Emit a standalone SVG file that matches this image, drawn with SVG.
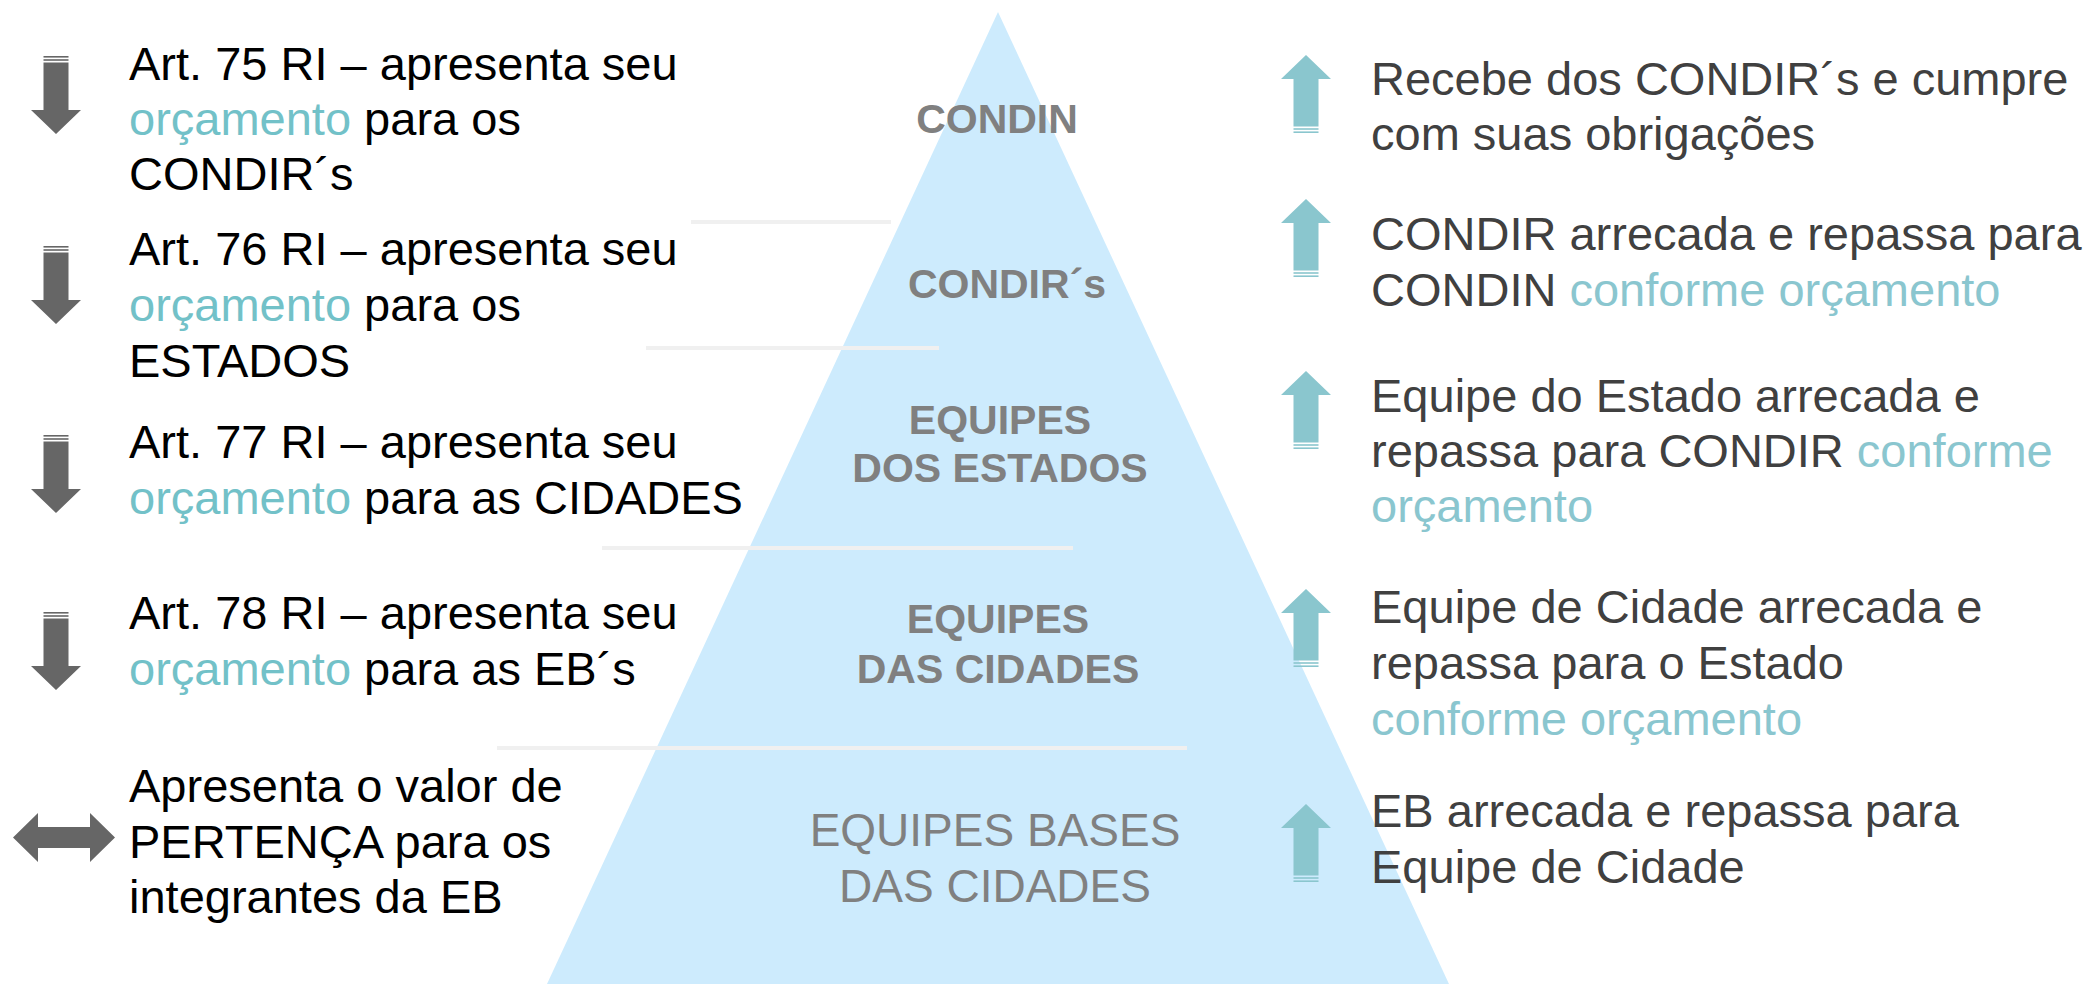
<svg xmlns="http://www.w3.org/2000/svg" xmlns:xlink="http://www.w3.org/1999/xlink" width="2084" height="984" viewBox="0 0 2084 984">
<style>
.t{font-family:"Liberation Sans",Arial,sans-serif;font-size:47px}
.lt{fill:#000}
.rt{fill:#404040}
.tl{fill:#72c1c8}
.tr{fill:#8ac6cf}
.pl{font-family:"Liberation Sans",Arial,sans-serif;font-size:41px;font-weight:bold;fill:#808080;text-anchor:middle}
.pn{font-family:"Liberation Sans",Arial,sans-serif;font-size:46px;fill:#808080;text-anchor:middle}
.sep{stroke:#f0f0f0;stroke-width:4;fill:none}
.da{fill:#666666}
.ua{fill:#8ac6ce}
</style>
<defs>
<g id="down">
<rect x="-12.5" y="0" width="25" height="1.6"/>
<rect x="-12.5" y="3.2" width="25" height="1.6"/>
<path d="M-12.5,6.4 H12.5 V54 H25 L0,78 L-25,54 H-12.5 Z"/>
</g>
<g id="up">
<path d="M0,0 L25,24 H12.5 V71.6 H-12.5 V24 H-25 Z"/>
<rect x="-12.5" y="73.2" width="25" height="1.6"/>
<rect x="-12.5" y="76.4" width="25" height="1.6"/>
</g>
</defs>
<rect width="2084" height="984" fill="#ffffff"/>

<g id="pyramid">
<polygon points="998,12 1449,984 547,984" fill="#cdebfd"/>
</g>

<g id="separators">
<line class="sep" x1="691" y1="222" x2="891" y2="222"/>
<line class="sep" x1="646" y1="348" x2="939" y2="348"/>
<line class="sep" x1="602" y1="548" x2="1073" y2="548"/>
<line class="sep" x1="497" y1="748" x2="1187" y2="748"/>
</g>

<g id="level-condin"><text class="pl" x="997" y="133">CONDIN</text></g>
<g id="level-condirs"><text class="pl" x="1007" y="298">CONDIR´s</text></g>
<g id="level-estados"><text class="pl" x="1000" y="434">EQUIPES</text><text class="pl" x="1000" y="482">DOS ESTADOS</text></g>
<g id="level-cidades"><text class="pl" x="998" y="633">EQUIPES</text><text class="pl" x="998" y="683">DAS CIDADES</text></g>
<g id="level-bases"><text class="pn" x="995" y="846">EQUIPES BASES</text><text class="pn" x="995" y="902">DAS CIDADES</text></g>

<g id="connectors">
<g class="da">
<use xlink:href="#down" transform="translate(56,56)"/>
<use xlink:href="#down" transform="translate(56,246)"/>
<use xlink:href="#down" transform="translate(56,435)"/>
<use xlink:href="#down" transform="translate(56,612)"/>
<path d="M13,837.5 L38,813 V827 H90 V813 L115,837.5 L90,862 V848 H38 V862 Z"/>
</g>
<g class="ua">
<use xlink:href="#up" transform="translate(1306,55)"/>
<use xlink:href="#up" transform="translate(1306,199)"/>
<use xlink:href="#up" transform="translate(1306,371)"/>
<use xlink:href="#up" transform="translate(1306,589)"/>
<use xlink:href="#up" transform="translate(1306,804)"/>
</g>
</g>

<g id="left-75">
<text class="t lt" x="129" y="80">Art. 75 RI – apresenta seu</text>
<text class="t lt" x="129" y="135"><tspan class="tl">orçamento</tspan> para os</text>
<text class="t lt" x="129" y="190">CONDIR´s</text>
</g>
<g id="left-76">
<text class="t lt" x="129" y="265">Art. 76 RI – apresenta seu</text>
<text class="t lt" x="129" y="321"><tspan class="tl">orçamento</tspan> para os</text>
<text class="t lt" x="129" y="377">ESTADOS</text>
</g>
<g id="left-77">
<text class="t lt" x="129" y="458">Art. 77 RI – apresenta seu</text>
<text class="t lt" x="129" y="514"><tspan class="tl">orçamento</tspan> para as CIDADES</text>
</g>
<g id="left-78">
<text class="t lt" x="129" y="629">Art. 78 RI – apresenta seu</text>
<text class="t lt" x="129" y="685"><tspan class="tl">orçamento</tspan> para as EB´s</text>
</g>
<g id="left-pertenca">
<text class="t lt" x="129" y="802">Apresenta o valor de</text>
<text class="t lt" x="129" y="858">PERTENÇA para os</text>
<text class="t lt" x="129" y="913">integrantes da EB</text>
</g>

<g id="right-condin">
<text class="t rt" x="1371" y="95">Recebe dos CONDIR´s e cumpre</text>
<text class="t rt" x="1371" y="150">com suas obrigações</text>
</g>
<g id="right-condir">
<text class="t rt" x="1371" y="250">CONDIR arrecada e repassa para</text>
<text class="t rt" x="1371" y="306">CONDIN <tspan class="tr">conforme orçamento</tspan></text>
</g>
<g id="right-estado">
<text class="t rt" x="1371" y="412">Equipe do Estado arrecada e</text>
<text class="t rt" x="1371" y="467">repassa para CONDIR <tspan class="tr">conforme</tspan></text>
<text class="t tr" x="1371" y="522">orçamento</text>
</g>
<g id="right-cidade">
<text class="t rt" x="1371" y="623">Equipe de Cidade arrecada e</text>
<text class="t rt" x="1371" y="679">repassa para o Estado</text>
<text class="t tr" x="1371" y="735">conforme orçamento</text>
</g>
<g id="right-eb">
<text class="t rt" x="1371" y="827">EB arrecada e repassa para</text>
<text class="t rt" x="1371" y="883">Equipe de Cidade</text>
</g>
</svg>
